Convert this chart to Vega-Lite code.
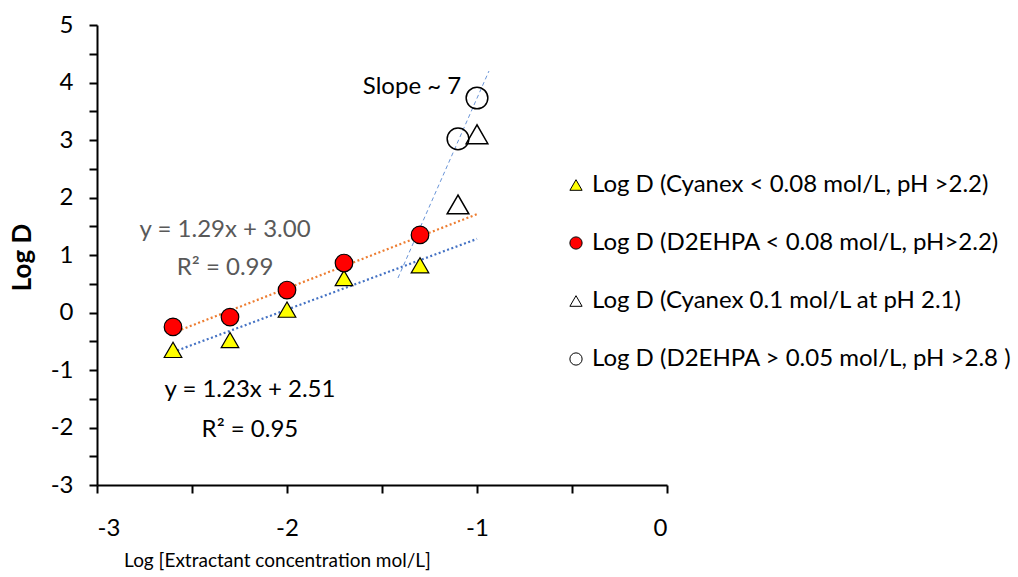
{
  "$schema": "https://vega.github.io/schema/vega-lite/v6.json",
  "width": 570,
  "height": 460,
  "autosize": {"type": "none"},
  "padding": {"left": 97, "top": 25, "right": 351, "bottom": 92},
  "background": "white",
  "config": {
    "view": {"stroke": null},
    "font": "Lato",
    "axis": {"grid": false, "domainColor": "black", "domainWidth": 2, "tickColor": "black", "tickWidth": 2, "tickSize": 8, "labelFont": "Lato", "labelFontSize": 24, "labelColor": "black", "titleFont": "Lato", "titleColor": "black"}
  },
  "datasets": {
    "filled": [
      {"x": -2.6, "y": -0.65, "series": "Log D (Cyanex < 0.08 mol/L, pH >2.2)"},
      {"x": -2.3, "y": -0.48, "series": "Log D (Cyanex < 0.08 mol/L, pH >2.2)"},
      {"x": -2.0, "y": 0.05, "series": "Log D (Cyanex < 0.08 mol/L, pH >2.2)"},
      {"x": -1.7, "y": 0.6, "series": "Log D (Cyanex < 0.08 mol/L, pH >2.2)"},
      {"x": -1.3, "y": 0.82, "series": "Log D (Cyanex < 0.08 mol/L, pH >2.2)"},
      {"x": -2.6, "y": -0.25, "series": "Log D (D2EHPA < 0.08 mol/L, pH>2.2)"},
      {"x": -2.3, "y": -0.08, "series": "Log D (D2EHPA < 0.08 mol/L, pH>2.2)"},
      {"x": -2.0, "y": 0.39, "series": "Log D (D2EHPA < 0.08 mol/L, pH>2.2)"},
      {"x": -1.7, "y": 0.86, "series": "Log D (D2EHPA < 0.08 mol/L, pH>2.2)"},
      {"x": -1.3, "y": 1.35, "series": "Log D (D2EHPA < 0.08 mol/L, pH>2.2)"}
    ],
    "open": [
      {"x": -1.1, "y": 1.88, "series": "Log D (Cyanex 0.1 mol/L at pH 2.1)"},
      {"x": -1.0, "y": 3.1, "series": "Log D (Cyanex 0.1 mol/L at pH 2.1)"},
      {"x": -1.1, "y": 3.02, "series": "Log D (D2EHPA > 0.05 mol/L, pH >2.8 )"},
      {"x": -1.0, "y": 3.73, "series": "Log D (D2EHPA > 0.05 mol/L, pH >2.8 )"}
    ],
    "orangeFit": [
      {"x": -2.6, "y": -0.354},
      {"x": -1.0, "y": 1.71}
    ],
    "blueFit": [
      {"x": -2.6, "y": -0.688},
      {"x": -1.0, "y": 1.28}
    ],
    "steep": [
      {"x": -1.416, "y": 0.6},
      {"x": -0.937, "y": 4.2}
    ],
    "grayNotes": [
      {"x": -2.326, "y": 1.435, "text": "y = 1.29x + 3.00"},
      {"x": -2.326, "y": 0.774, "text": "R² = 0.99"}
    ],
    "blackNotes": [
      {"x": -2.195, "y": -1.348, "text": "y = 1.23x + 2.51"},
      {"x": -2.195, "y": -2.043, "text": "R² = 0.95"},
      {"x": -1.342, "y": 3.92, "text": "Slope ~ 7"}
    ]
  },
  "encoding": {
    "x": {"field": "x", "type": "quantitative", "scale": {"domain": [-3, 0], "nice": false, "zero": false},
      "axis": {"title": "Log [Extractant concentration mol/L]", "titleFontSize": 19, "titleFontWeight": "normal", "values": [-3, -2.5, -2, -1.5, -1, -0.5, 0], "labelExpr": "datum.value % 1 == 0 ? '' + datum.value : ''", "labelPadding": 23, "titleX": 180, "titleY": 75, "titleAlign": "center", "titleBaseline": "middle", "titleAnchor": null}},
    "y": {"field": "y", "type": "quantitative", "scale": {"domain": [-3, 5], "nice": false, "zero": false},
      "axis": {"title": "Log D", "titleFontSize": 26, "titleFontWeight": "bold", "values": [-3, -2.5, -2, -1.5, -1, -0.5, 0, 0.5, 1, 1.5, 2, 2.5, 3, 3.5, 4, 4.5, 5], "labelExpr": "datum.value % 1 == 0 ? '' + datum.value : ''", "labelPadding": 16, "titleX": -75, "titleY": 232, "titleAngle": 270, "titleAlign": "center", "titleBaseline": "middle", "titleAnchor": null}}
  },
  "layer": [
    {
      "data": {"name": "orangeFit"},
      "mark": {"type": "line", "strokeWidth": 2.2, "strokeDash": [2, 2.5], "color": "#ED7D31"},
      "encoding": {}
    },
    {
      "data": {"name": "blueFit"},
      "mark": {"type": "line", "strokeWidth": 2.2, "strokeDash": [2, 2.5], "color": "#4472C4"},
      "encoding": {}
    },
    {
      "data": {"name": "steep"},
      "mark": {"type": "line", "strokeWidth": 1, "strokeDash": [4, 3], "color": "#6A95D8"},
      "encoding": {}
    },
    {
      "data": {"name": "filled"},
      "mark": {"type": "point", "filled": true, "strokeWidth": 1.2, "opacity": 1, "size": 310},
      "encoding": {
        "shape": {"field": "series", "type": "nominal", "scale": {"domain": ["Log D (Cyanex < 0.08 mol/L, pH >2.2)", "Log D (D2EHPA < 0.08 mol/L, pH>2.2)", "Log D (Cyanex 0.1 mol/L at pH 2.1)", "Log D (D2EHPA > 0.05 mol/L, pH >2.8 )"], "range": ["triangle-up", "circle", "triangle-up", "circle"]},
          "legend": {"title": null, "orient": "none", "legendX": 467, "legendY": 148, "labelFont": "Lato", "labelFontSize": 24, "labelColor": "black", "symbolSize": 150, "symbolStrokeWidth": 1, "rowPadding": 34, "labelOffset": 4, "labelLimit": 600}},
        "fill": {"field": "series", "type": "nominal", "scale": {"domain": ["Log D (Cyanex < 0.08 mol/L, pH >2.2)", "Log D (D2EHPA < 0.08 mol/L, pH>2.2)", "Log D (Cyanex 0.1 mol/L at pH 2.1)", "Log D (D2EHPA > 0.05 mol/L, pH >2.8 )"], "range": ["#FFFF00", "#FF0000", "transparent", "transparent"]}},
        "stroke": {"field": "series", "type": "nominal", "scale": {"domain": ["Log D (Cyanex < 0.08 mol/L, pH >2.2)", "Log D (D2EHPA < 0.08 mol/L, pH>2.2)", "Log D (Cyanex 0.1 mol/L at pH 2.1)", "Log D (D2EHPA > 0.05 mol/L, pH >2.8 )"], "range": ["black", "black", "black", "black"]}}
      }
    },
    {
      "data": {"name": "open"},
      "mark": {"type": "point", "filled": true, "strokeWidth": 1.5, "opacity": 1, "size": 470},
      "encoding": {
        "shape": {"field": "series", "type": "nominal"},
        "fill": {"field": "series", "type": "nominal"},
        "stroke": {"field": "series", "type": "nominal"}
      }
    },
    {
      "data": {"name": "grayNotes"},
      "mark": {"type": "text", "font": "Lato", "fontSize": 24, "align": "center", "baseline": "middle", "color": "#595959"},
      "encoding": {"text": {"field": "text"}}
    },
    {
      "data": {"name": "blackNotes"},
      "mark": {"type": "text", "font": "Lato", "fontSize": 24, "align": "center", "baseline": "middle", "color": "black"},
      "encoding": {"text": {"field": "text"}}
    }
  ]
}
